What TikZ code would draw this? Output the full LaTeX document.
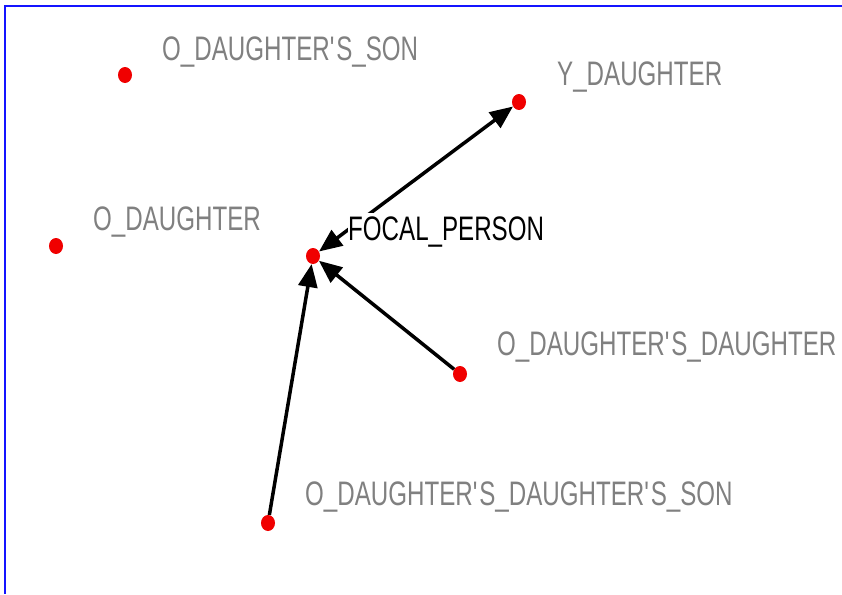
\documentclass[tikz,border=0pt]{standalone}
\usepackage{fontspec}
\setmainfont{Liberation Sans}[FakeStretch=0.71]
\usetikzlibrary{arrows.meta,shapes.geometric}
\definecolor{lblgray}{RGB}{128,128,128}
\definecolor{dotred}{RGB}{240,0,0}
\definecolor{frameblue}{RGB}{20,20,255}
\newcommand{\apos}{\textquotesingle}
\begin{document}
\begin{tikzpicture}[x=1pt,y=-1pt,
  dot/.style={ellipse,fill=dotred,draw=none,minimum width=14pt,minimum height=16pt,inner sep=0pt},
  lbl/.style={anchor=base west,inner xsep=0pt,inner ysep=3pt,text=lblgray,font=\fontsize{34}{37}\selectfont},
  focallbl/.style={lbl,text=black,fill=white},
  edge/.style={line width=3.5pt,black,-{Triangle[length=23pt,width=19pt]}},
  bedge/.style={line width=3.5pt,black,{Triangle[length=23pt,width=19pt]}-{Triangle[length=23pt,width=19pt]}}]
\useasboundingbox (0,0) rectangle (842,594);
\fill[white] (0,0) rectangle (842,594);
\draw[frameblue,line width=2pt] (842,6) -- (5,6) -- (5,594);
% dots
\node[dot] (ods) at (125,75) {};
\node[dot] (yd) at (519,102) {};
\node[dot] (od) at (56,246) {};
\node[dot] (fp) at (313,256) {};
\node[dot] (odd) at (460,374) {};
\node[dot] (odds) at (268,523) {};
% edges
\draw[bedge] (fp) -- (yd);
\draw[edge] (odd) -- (fp);
\draw[edge] (odds) -- (fp);
% labels
\node[lbl] (ods-l) at (162,60) {O\_DAUGHTER\apos S\_SON};
\node[lbl] (yd-l) at (557,85) {Y\_DAUGHTER};
\node[lbl] (od-l) at (93,230) {O\_DAUGHTER};
\node[focallbl] (fp-l) at (348,240) {FOCAL\_PERSON};
\node[lbl] (odd-l) at (497,355) {O\_DAUGHTER\apos S\_DAUGHTER};
\node[lbl] (odds-l) at (305,505) {O\_DAUGHTER\apos S\_DAUGHTER\apos S\_SON};
\end{tikzpicture}
\end{document}
